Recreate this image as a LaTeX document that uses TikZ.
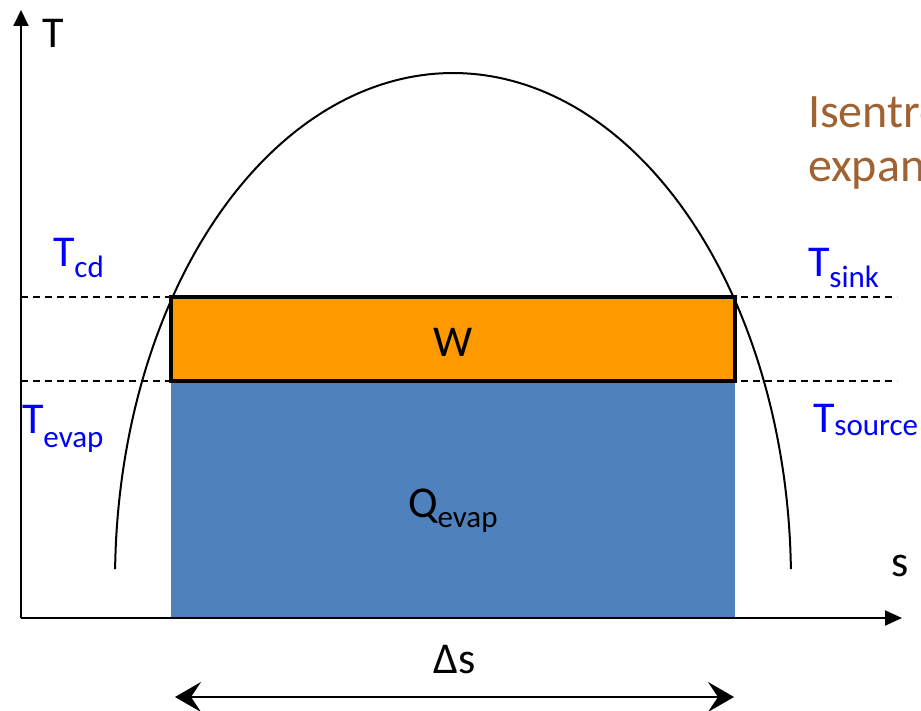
\documentclass[tikz,border=0pt]{standalone}
\usepackage{fontspec}
\setmainfont{Carlito}
\usetikzlibrary{arrows.meta}
\definecolor{txtblue}{RGB}{0,0,255}
\definecolor{brownish}{RGB}{160,98,48}
\definecolor{worange}{RGB}{255,153,0}
\definecolor{qblue}{RGB}{79,129,189}
\newcommand{\bigf}{\fontsize{44}{50}\selectfont}
\newcommand{\brownf}{\fontsize{48}{54}\selectfont}
\newcommand{\subf}{\fontsize{31}{36}\selectfont}
\newcommand{\lowsub}[2]{\raisebox{-#1pt}{\subf #2}}
\begin{document}
\begin{tikzpicture}[x=1pt,y=-1pt,
  lab/.style={inner sep=0pt, outer sep=0pt, anchor=base west, font=\bigf},
  axisline/.style={line width=2pt},
  levelline/.style={line width=1.5pt, dash pattern=on 7pt off 5pt},
  boxnode/.style={inner sep=0pt, outer sep=0pt, minimum width=564pt}]
\useasboundingbox (0,0) rectangle (921,711);
% rectangles
\node[boxnode, fill=qblue, minimum height=236pt] (qrect) at (453,499) {};
\node[boxnode, fill=worange, draw=black, line width=3.3pt, minimum height=84pt] (work) at (453,339) {};
% dashed level lines
\coordinate (d1l) at (21,297);
\coordinate (d1r) at (897,297);
\coordinate (d2l) at (21,381);
\coordinate (d2r) at (897,381);
\draw[levelline] (d1l) -- (d1r);
\draw[levelline] (d2l) -- (d2r);
% dome
\draw[line width=2pt] plot[domain=1.24:178.76, samples=150] ({453+338*cos(\x)},{580-507*sin(\x)});
% axes
\coordinate (o) at (21,618);
\coordinate (ytop) at (21,10);
\coordinate (xend) at (902,618);
\draw[axisline, -{Triangle[length=16pt,width=15pt]}] (o) -- (ytop);
\draw[axisline, -{Triangle[length=17pt,width=15pt]}] (o) -- (xend);
% delta s arrow
\coordinate (al) at (175,697);
\coordinate (ar) at (734,697);
\draw[line width=2pt, {Stealth[length=26pt,width=30pt,inset=10pt]}-{Stealth[length=26pt,width=30pt,inset=10pt]}] (al) -- (ar);
% labels
\node[lab] (tlab) at (42,48) {T};
\node[lab] (slab) at (891,576) {s};
\node[lab, text=txtblue] (tcd) at (53,267) {T\lowsub{11}{cd}};
\node[lab, text=txtblue] (tevap) at (22,433) {T\lowsub{14}{evap}};
\node[lab, text=txtblue] (tsink) at (808,277) {T\lowsub{11}{sink}};
\node[lab, text=txtblue] (tsource) at (813,432) {T\lowsub{3}{source}};
\node[lab, font=\brownf, text=brownish] (isen1) at (808,128) {Isentropic};
\node[lab, font=\brownf, text=brownish] (isen2) at (808,182) {expansion};
\node[lab, anchor=base] (wlab) at (453,356) {W};
\node[lab] (qlab) at (408,517) {Q\lowsub{10}{evap}};
\node[lab, anchor=base] (dslab) at (455,673) {Δs};
\end{tikzpicture}
\end{document}
